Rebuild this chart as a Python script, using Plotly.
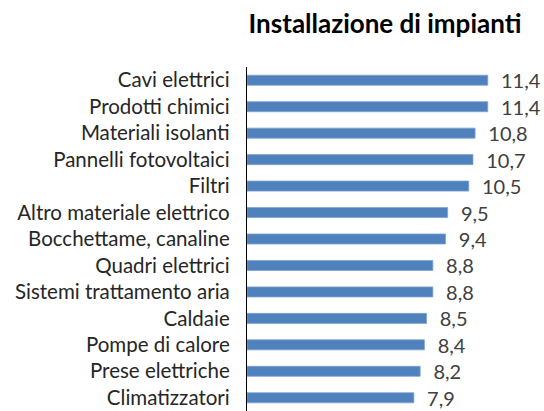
import plotly.graph_objects as go

categories = ["Cavi elettrici", "Prodotti chimici", "Materiali isolanti", "Pannelli fotovoltaici",
              "Filtri", "Altro materiale elettrico", "Bocchettame, canaline", "Quadri elettrici",
              "Sistemi trattamento aria", "Caldaie", "Pompe di calore", "Prese elettriche",
              "Climatizzatori"]
values = [11.4, 11.4, 10.8, 10.7, 10.5, 9.5, 9.4, 8.8, 8.8, 8.5, 8.4, 8.2, 7.9]
title = "Installazione di impianti"

labels = ["\u00a0\u00a0" + f"{v:.1f}".replace(".", ",") for v in values]
FONT = "Lato, Carlito, sans-serif"

W, H = 544, 411

fig = go.Figure(go.Bar(
    y=categories, x=values, orientation="h",
    marker=dict(color="#4F81BD", line=dict(color="#7FA3D0", width=0.8)),
    text=labels, textposition="outside", cliponaxis=False, constraintext="none",
    textfont=dict(family=FONT, size=20, color="#404040"),
))

fig.update_layout(
    width=W, height=H,
    paper_bgcolor="white", plot_bgcolor="white",
    margin=dict(l=247, r=33, t=67, b=0),
    bargap=0.62,
    showlegend=False,
    title=dict(text=f"<b>{title}</b>", x=385 / W, xanchor="center", y=1 - 24 / H, yanchor="middle",
               font=dict(family=FONT, size=26, color="#000000")),
    font=dict(family=FONT, size=20, color="#262626"),
)
fig.update_xaxes(range=[0, 12.5], visible=False, showgrid=False, zeroline=False)
fig.update_yaxes(range=[12.5, -0.5], showline=True, linecolor="#000000", linewidth=1.3,
                 ticks="", showgrid=False, ticklabelstandoff=12,
                 tickfont=dict(family=FONT, size=20.5, color="#262626"))

# remove the browser's default 8px body margin so the figure fills the window
fig.write_html("out.html", config={"displayModeBar": False},
               post_script="document.body.style.margin='0';")
